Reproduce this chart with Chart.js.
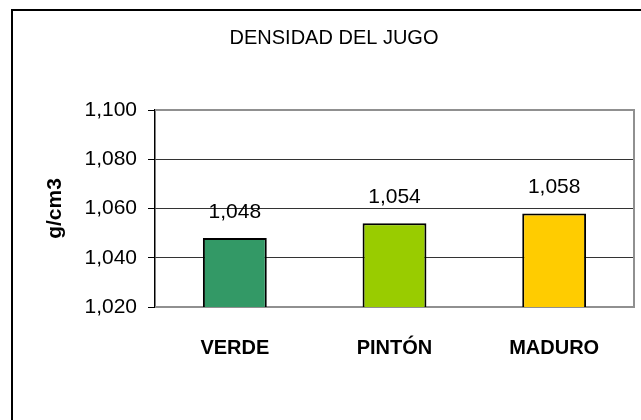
<!DOCTYPE html>
<html lang="es">
<head>
  <meta charset="UTF-8">
  <title>Densidad del jugo</title>
  <style>
    body { margin: 0; background: #fff; }
    #wrap { width: 641px; height: 420px; }
  </style>
</head>
<body>
  <div id="wrap"><canvas id="chart" width="641" height="420"></canvas></div>

  <script src="https://cdn.jsdelivr.net/npm/chart.js"></script>
  <script>
    const categorias = ['VERDE', 'PINTÓN', 'MADURO'];
    const densidad = [1.048, 1.054, 1.058];
    const colores = ['#339966', '#99CC00', '#FFCC00'];
    const yMin = 1.02, yMax = 1.1, yPaso = 0.02;

    const FONT = "'Liberation Sans', Arial, sans-serif";
    const coma = v => Number(v).toFixed(3).replace('.', ',');

    // marco exterior + borde gris del área de trazado
    const marco = {
      id: 'marco',
      beforeDraw(chart) {
        const c = chart.ctx;
        c.save();
        c.strokeStyle = '#000';
        c.lineWidth = 2;
        c.strokeRect(12, 10, 700, 500);
        c.restore();
      },
      beforeDatasetsDraw(chart) {
        const { ctx: c, chartArea: a } = chart;
        c.save();
        c.strokeStyle = '#909090';
        c.lineWidth = 2;
        c.beginPath();
        c.moveTo(a.left, a.top); c.lineTo(a.right, a.top);
        c.lineTo(a.right, a.bottom); c.lineTo(a.left, a.bottom);
        c.stroke();
        c.restore();
      }
    };

    // etiquetas de valor sobre las barras
    const etiquetas = {
      id: 'etiquetas',
      afterDatasetsDraw(chart) {
        const c = chart.ctx;
        const meta = chart.getDatasetMeta(0);
        c.save();
        c.font = '21px ' + FONT;
        c.fillStyle = '#000';
        c.textAlign = 'center';
        c.textBaseline = 'alphabetic';
        meta.data.forEach((bar, i) => {
          c.fillText(coma(densidad[i]), bar.x, bar.y - 20);
        });
        c.restore();
      }
    };

    new Chart(document.getElementById('chart'), {
      type: 'bar',
      data: {
        labels: categorias,
        datasets: [{
          data: densidad,
          backgroundColor: colores,
          borderColor: '#000',
          borderWidth: 2,
          barPercentage: 0.4,
          categoryPercentage: 1
        }]
      },
      options: {
        responsive: false,
        animation: false,
        layout: { padding: { left: 34, right: 7, top: 0, bottom: 0 } },
        plugins: {
          legend: { display: false },
          tooltip: { enabled: false },
          title: {
            display: true,
            text: 'DENSIDAD DEL JUGO',
            color: '#000',
            font: { family: FONT, size: 20, weight: 'normal' },
            padding: { top: 26, bottom: 60 }
          }
        },
        scales: {
          x: {
            grid: { display: false, drawTicks: false },
            border: { display: false },
            ticks: {
              color: '#000',
              padding: 29,
              font: { family: FONT, size: 20, weight: 'bold' }
            },
            afterFit(s) { s.height = 113; }
          },
          y: {
            min: yMin,
            max: yMax,
            grid: {
              color: ctx => (ctx.tick && (Math.abs(ctx.tick.value - yMin) < 1e-6 || Math.abs(ctx.tick.value - yMax) < 1e-6)) ? '#909090' : '#333',
              tickColor: '#000',
              tickLength: 7,
              lineWidth: 1
            },
            border: { display: true, color: '#000', width: 1.5 },
            ticks: {
              stepSize: yPaso,
              color: '#000',
              padding: 11,
              font: { family: FONT, size: 21 },
              callback: v => coma(v)
            },
            title: {
              display: true,
              text: 'g/cm3',
              color: '#000',
              font: { family: FONT, size: 21, weight: 'bold' },
              padding: { top: 9, bottom: 0 }
            },
            afterFit(s) { s.width = 121; }
          }
        }
      },
      plugins: [marco, etiquetas]
    });
  </script>
</body>
</html>
